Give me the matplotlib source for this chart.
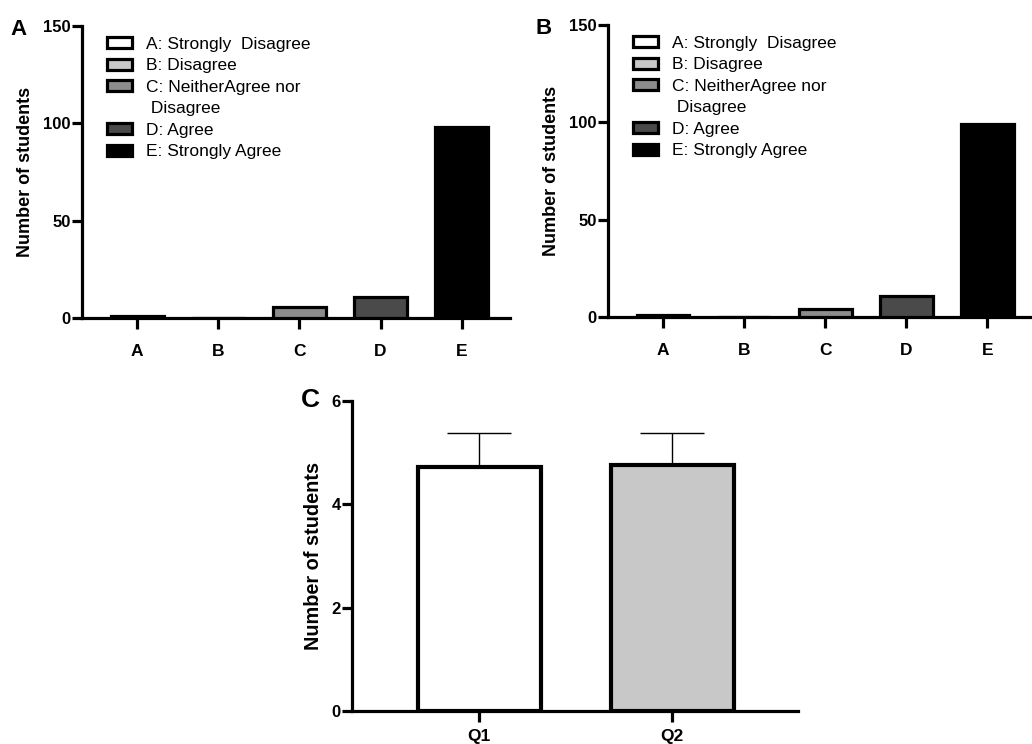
import matplotlib
matplotlib.use("Agg")
import matplotlib.pyplot as plt
from matplotlib.patches import Patch

plt.rcParams['font.family'] = ['Liberation Sans', 'DejaVu Sans']

categories = ["A", "B", "C", "D", "E"]
legend_labels = ["A: Strongly  Disagree", "B: Disagree", "C: NeitherAgree nor",
                 " Disagree", "D: Agree", "E: Strongly Agree"]
counts_a = [1, 0, 5.5, 11, 98]
counts_b = [1, 0, 4, 11, 99]
bar_colors = ["#ffffff", "#c8c8c8", "#8c8c8c", "#4a4a4a", "#000000"]

questions = ["Q1", "Q2"]
means_c = [4.72, 4.76]
sd_c = [0.66, 0.62]
colors_c = ["#ffffff", "#c8c8c8"]

LW = 2.3

fig = plt.figure(figsize=(10.32, 7.44), dpi=100)


def style_axes(ax, yfs):
    for s in ["top", "right"]:
        ax.spines[s].set_visible(False)
    for s in ["left", "bottom"]:
        ax.spines[s].set_linewidth(LW)
    ax.tick_params(axis="y", length=7, width=LW, labelsize=12, pad=1)
    ax.tick_params(axis="x", length=8, width=LW, labelsize=12.5, pad=11)
    for lab in ax.get_xticklabels() + ax.get_yticklabels():
        lab.set_fontweight("bold")
    ax.set_ylabel("Number of students", fontsize=yfs, fontweight="bold")


def survey_panel(rect, counts, letter):
    ax = fig.add_axes(rect)
    x = range(len(categories))
    ax.bar(x, counts, width=0.65, color=bar_colors, edgecolor="black", linewidth=LW, zorder=3)
    ax.set_xticks(list(x))
    ax.set_xticklabels(categories)
    ax.set_xlim(-0.68, 4.6)
    ax.set_ylim(0, 150)
    ax.set_yticks([0, 50, 100, 150])
    style_axes(ax, 13)
    ax.yaxis.set_label_coords(-0.112, 0.5)
    handles = [Patch(facecolor=c, edgecolor="black", linewidth=LW) for c in bar_colors]
    # second line of the C label gets an empty handle
    handles.insert(3, Patch(facecolor="none", edgecolor="none"))
    ax.legend(handles, legend_labels, loc="upper left", bbox_to_anchor=(0.058, 0.962),
              frameon=False, fontsize=12.5, handlelength=1.45, handleheight=0.6,
              handletextpad=0.8, labelspacing=0.37, borderpad=0, borderaxespad=0)
    fig.text(rect[0] - 0.062, rect[1] + rect[3] - 0.005, letter, fontsize=16,
             fontweight="bold", ha="center", va="center")
    return ax


survey_panel([0.0795, 0.5726, 0.415, 0.3925], counts_a, "A")
survey_panel([0.589, 0.5740, 0.415, 0.3925], counts_b, "B")

axc = fig.add_axes([0.341, 0.0444, 0.432, 0.4166])
xc = range(len(questions))
axc.bar(xc, means_c, width=0.64, color=colors_c, edgecolor="black", linewidth=3, zorder=3)
axc.errorbar(xc, means_c, yerr=[[0, 0], sd_c], fmt="none", ecolor="black",
             elinewidth=1, capsize=23, capthick=1, zorder=2)
axc.set_xticks(list(xc))
axc.set_xticklabels(questions)
axc.set_xlim(-0.66, 1.65)
axc.set_ylim(0, 6)
axc.set_yticks([0, 2, 4, 6])
style_axes(axc, 14.3)
axc.tick_params(axis="x", pad=5)
axc.yaxis.set_label_coords(-0.065, 0.5)
fig.text(0.301, 0.462, "C", fontsize=19, fontweight="bold", ha="center", va="center")

fig.savefig("out.png", dpi=100)
